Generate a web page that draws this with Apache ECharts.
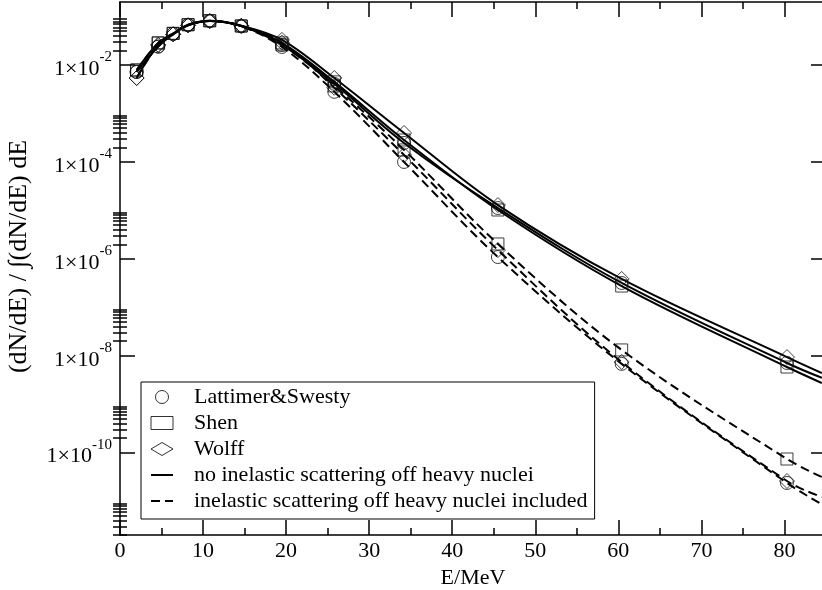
<!DOCTYPE html>
<html><head><meta charset="utf-8">
<script src="https://cdn.jsdelivr.net/npm/echarts@6/dist/echarts.min.js"></script>
<style>html,body{margin:0;padding:0;background:#fff}#c{width:822px;height:590px}</style>
</head><body><div id="c"></div>
<script>
// ---- data ----
const curveEnergies = [2.0, 4.6, 6.4, 8.2, 10.8, 14.6, 19.5, 25.8, 34.2, 45.5, 60.4, 80.3, 84.5];
const markerCount = 12; // last curve point is where the curves leave the frame

// no inelastic scattering off heavy nuclei (solid)
const lsSolid    = [7.2e-3, 2.4e-2, 4.4e-2, 6.7e-2, 8.1e-2, 6.4e-2, 2.6e-2, 4.1e-3, 2.47e-4, 1.12e-5, 3.18e-7, 7.1e-9, 3.5e-9];
const shenSolid  = [7.9e-3, 2.86e-2, 4.5e-2, 6.8e-2, 8.2e-2, 6.4e-2, 2.86e-2, 4.5e-3, 2.84e-4, 1.02e-5, 2.75e-7, 5.86e-9, 2.74e-9];
const wolffSolid = [5.4e-3, 2.6e-2, 4.3e-2, 6.6e-2, 8.1e-2, 6.5e-2, 3.3e-2, 5.4e-3, 3.96e-4, 1.29e-5, 3.85e-7, 9.4e-9, 4.4e-9];
// inelastic scattering off heavy nuclei included (dashed)
const lsDash     = [7.2e-3, 2.4e-2, 4.4e-2, 6.7e-2, 8.1e-2, 6.3e-2, 2.36e-2, 2.8e-3, 1.0e-4, 1.09e-6, 6.8e-9, 2.37e-11, 8.6e-12];
const shenDash   = [7.9e-3, 2.86e-2, 4.5e-2, 6.8e-2, 8.2e-2, 6.4e-2, 2.6e-2, 3.7e-3, 1.77e-4, 2.03e-6, 1.32e-8, 7.4e-11, 3.15e-11];
const wolffDash  = [5.4e-3, 2.6e-2, 4.3e-2, 6.6e-2, 8.1e-2, 6.4e-2, 2.9e-2, 3.4e-3, 1.39e-4, 1.52e-6, 7.45e-9, 2.6e-11, 1.22e-11];

const xMajorTicks = [0, 10, 20, 30, 40, 50, 60, 70, 80];
const xMinorTicks = [5, 15, 25, 35, 45, 55, 65, 75, 85];
const yLabelValues = [1e-10, 1e-8, 1e-6, 1e-4, 1e-2];
const yMajorTicks = [1e-12, 1e-10, 1e-8, 1e-6, 1e-4, 1e-2];
const yMinorMantissas = [2, 3, 4, 5, 6, 7, 8, 9];

const nameLS = 'Lattimer&Swesty', nameShen = 'Shen', nameWolff = 'Wolff';
const nameSolid = 'no inelastic scattering off heavy nuclei';
const nameDash = 'inelastic scattering off heavy nuclei included';

// ---- chart ----
const FONT = '"Liberation Serif", "DejaVu Serif", serif';
const Y_MIN = 2e-12, Y_MAX = 0.2;
const yMinorTicks = [];
yMajorTicks.forEach(p => yMinorMantissas.forEach(m => { const v = m * p; if (v >= Y_MIN && v < Y_MAX) yMinorTicks.push(v); }));

const lineCol = '#000';
function xAx(pos, ticks, len, extra) {
  return Object.assign({
    type: 'value', min: 0, max: 85, position: pos, gridIndex: 0,
    splitLine: { show: false },
    axisLine: { show: true, onZero: false, lineStyle: { color: lineCol, width: 1.5 } },
    axisTick: { show: true, inside: true, length: len, customValues: ticks, lineStyle: { color: lineCol, width: 1.5 } },
    axisLabel: { show: false }
  }, extra || {});
}
function yAx(pos, ticks, len, extra) {
  return Object.assign({
    type: 'log', logBase: 10, min: Y_MIN, max: Y_MAX, position: pos, gridIndex: 0,
    splitLine: { show: false },
    axisLine: { show: true, onZero: false, lineStyle: { color: lineCol, width: 1.5 } },
    axisTick: { show: true, inside: true, length: len, customValues: ticks, lineStyle: { color: lineCol, width: 1.5 } },
    axisLabel: { show: false }
  }, extra || {});
}

const xAxes = [
  xAx('bottom', xMajorTicks, 15, {
    axisLabel: { show: true, customValues: xMajorTicks, color: '#000', fontFamily: FONT, fontSize: 22, margin: 5 },
    name: 'E/MeV', nameLocation: 'middle', nameGap: 31,
    nameTextStyle: { color: '#000', fontFamily: FONT, fontSize: 22 }
  }),
  xAx('bottom', xMinorTicks, 7, { axisLine: { show: false } }),
  xAx('top', xMajorTicks, 15),
  xAx('top', xMinorTicks, 7, { axisLine: { show: false } })
];
const yAxes = [
  yAx('left', yMajorTicks.filter(v => v >= Y_MIN), 15, {
    axisLabel: {
      show: true, customValues: yLabelValues, margin: 8,
      formatter: v => '{m|1×10}{s|' + Math.round(Math.log10(v)) + '}',
      rich: {
        m: { fontFamily: FONT, fontSize: 22, color: '#000', lineHeight: 30, verticalAlign: 'bottom' },
        s: { fontFamily: FONT, fontSize: 15, color: '#000', lineHeight: 30, verticalAlign: 'top' }
      }
    },
    name: '(dN/dE) / ∫(dN/dE) dE', nameLocation: 'middle', nameGap: 88, nameRotate: 90,
    nameTextStyle: { color: '#000', fontFamily: FONT, fontSize: 26, padding: [0, 0, 0, 24] }
  }),
  yAx('left', yMinorTicks, 7, { axisLine: { show: false } }),
  yAx('right', yMajorTicks.filter(v => v >= Y_MIN), 15),
  yAx('right', yMinorTicks, 7, { axisLine: { show: false } })
];

function curve(name, vals, dashed) {
  return {
    type: 'line', name: name, xAxisIndex: 0, yAxisIndex: 0,
    data: curveEnergies.map((e, i) => [e, vals[i]]),
    showSymbol: false, symbol: 'none', smooth: 0.35, z: 2,
    lineStyle: { color: '#000', width: 2, type: dashed ? [9, 5] : 'solid' },
    itemStyle: { color: '#000' }
  };
}
function markers(name, vals, symbol, size) {
  return {
    type: 'scatter', name: name, xAxisIndex: 0, yAxisIndex: 0,
    data: curveEnergies.slice(0, markerCount).map((e, i) => [e, vals[i]]),
    symbol: symbol, symbolSize: size, z: 3,
    itemStyle: { color: 'transparent', borderColor: '#111', borderWidth: 1 }
  };
}

const hiddenSym = { color: 'transparent', borderColor: 'transparent', borderWidth: 0 };
const option = {
  animation: false,
  backgroundColor: '#fff',
  grid: { left: 120, top: 2, width: 706, height: 533, containLabel: false, outerBoundsMode: 'none' },
  xAxis: xAxes,
  yAxis: yAxes,
  legend: {
    orient: 'vertical', left: 141, top: 382,
    padding: [2, 7, 5, 9], itemWidth: 22, itemHeight: 13, itemGap: 0,
    borderColor: '#000', borderWidth: 1,
    textStyle: { fontFamily: FONT, fontSize: 22, color: '#000', lineHeight: 26, padding: [0, 0, 0, 16] },
    data: [
      { name: nameLS, icon: 'circle', itemStyle: { color: 'transparent', borderColor: '#000', borderWidth: 1 } },
      { name: nameShen, icon: 'rect', itemStyle: { color: 'transparent', borderColor: '#000', borderWidth: 1 } },
      { name: nameWolff, icon: 'diamond', itemStyle: { color: 'transparent', borderColor: '#000', borderWidth: 1 } },
      { name: nameSolid, itemStyle: hiddenSym },
      { name: nameDash, itemStyle: hiddenSym }
    ]
  },
  series: [
    curve(nameSolid, lsSolid, false),
    curve(nameSolid, shenSolid, false),
    curve(nameSolid, wolffSolid, false),
    curve(nameDash, lsDash, true),
    curve(nameDash, shenDash, true),
    curve(nameDash, wolffDash, true),
    markers(nameLS, lsSolid, 'circle', 13),
    markers(nameLS, lsDash, 'circle', 13),
    markers(nameShen, shenSolid, 'rect', 12),
    markers(nameShen, shenDash, 'rect', 12),
    markers(nameWolff, wolffSolid, 'diamond', 15),
    markers(nameWolff, wolffDash, 'diamond', 15)
  ]
};
const chart = echarts.init(document.getElementById('c'), null, { renderer: 'canvas' });
chart.setOption(option);
</script></body></html>
